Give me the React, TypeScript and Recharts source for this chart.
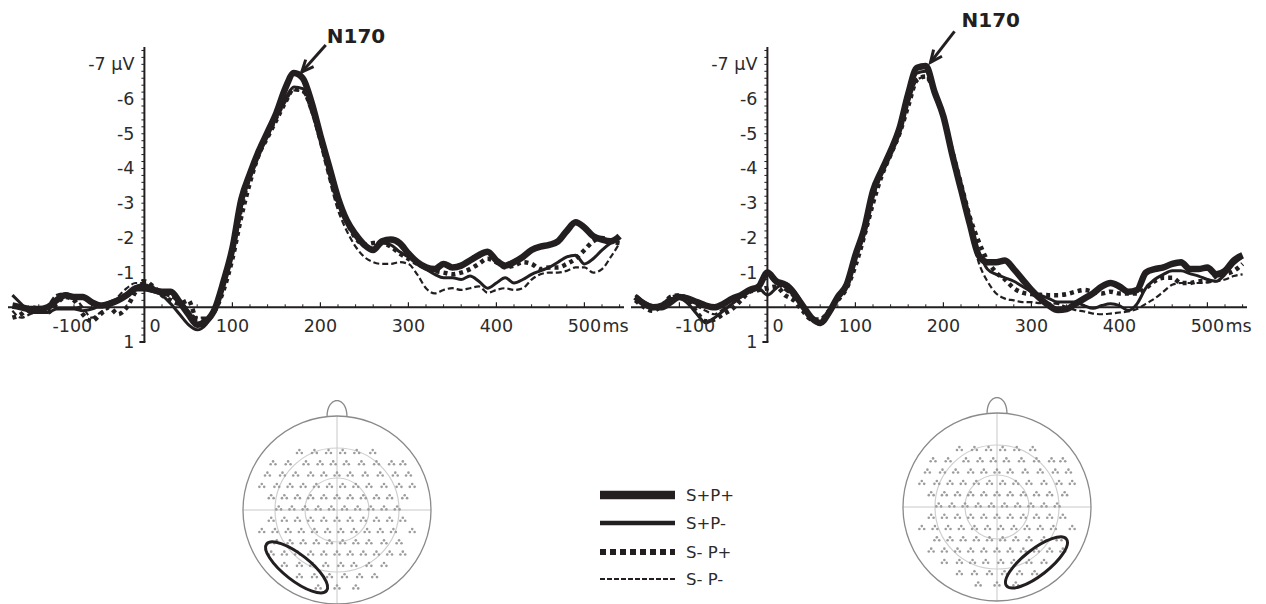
import { LineChart, Line, XAxis, YAxis, ReferenceLine, ReferenceDot, ScatterChart, Scatter } from 'recharts'

const INK = '#231f20'
const TEXT = '#2b2b2b'
const FONT = '"DejaVu Sans", Verdana, sans-serif'

// time axis (ms)
const TIMES = [
  -150, -140, -130, -120, -110, -100, -90, -80, -70, -60,
  -50, -40, -30, -20, -10, 0, 10, 20, 30, 40,
  50, 60, 70, 80, 90, 100, 110, 120, 130, 140,
  150, 160, 170, 180, 190, 200, 210, 220, 230, 240,
  250, 260, 270, 280, 290, 300, 310, 320, 330, 340,
  350, 360, 370, 380, 390, 400, 410, 420, 430, 440,
  450, 460, 470, 480, 490, 500, 510, 520, 530, 540,
]

// left panel (µV)
const LEFT_SPP = [
  -0.05, 0.0, 0.05, 0.05, 0.0, -0.2, -0.35, -0.3, -0.3, -0.15,
  -0.05, -0.1, -0.2, -0.35, -0.55, -0.6, -0.5, -0.45, -0.45, -0.15,
  0.2, 0.5, 0.4, 0.05, -0.75, -1.7, -3.1, -3.85, -4.5, -5.05,
  -5.6, -6.3, -6.75, -6.6, -5.9, -4.95, -4.05, -3.15, -2.5, -2.1,
  -1.8, -1.65, -1.9, -1.95, -1.85, -1.55, -1.3, -1.15, -1.1, -1.25,
  -1.15, -1.2, -1.35, -1.5, -1.6, -1.35, -1.2, -1.3, -1.45, -1.65,
  -1.75, -1.8, -1.9, -2.2, -2.45, -2.3, -2.05, -1.95, -1.9, -2.05,
]
const LEFT_SPM = [
  -0.35, -0.1, 0.15, 0.15, 0.15, 0.05, 0.05, 0.05, 0.1, 0.05,
  -0.05, -0.15, -0.25, -0.4, -0.5, -0.5, -0.45, -0.35, -0.1, 0.2,
  0.5, 0.65, 0.5, 0.05, -0.8, -1.75, -3.1, -3.9, -4.5, -5.0,
  -5.5, -6.0, -6.35, -6.3, -5.8, -4.9, -4.0, -3.1, -2.5, -2.05,
  -1.75, -1.7, -1.85, -1.8, -1.6, -1.45, -1.25, -1.1, -0.95, -0.85,
  -0.85, -0.8, -0.9, -0.75, -0.55, -0.7, -0.85, -0.7, -0.8, -0.95,
  -1.05, -1.15, -1.3, -1.45, -1.5, -1.25, -1.4, -1.65, -1.85, -2.0,
]
const LEFT_SMP = [
  0.3, 0.2, 0.0, 0.05, 0.15, -0.1, -0.3, -0.2, 0.2, 0.4,
  0.2, 0.0, 0.2, 0.0, -0.45, -0.75, -0.6, -0.35, -0.2, -0.1,
  -0.2, 0.35, 0.35, 0.1, -0.5, -1.4, -2.6, -3.6, -4.4, -4.9,
  -5.4, -5.9, -6.3, -6.25, -5.7, -4.9, -3.95, -3.0, -2.45, -2.0,
  -1.8, -1.85, -1.85, -1.75, -1.55, -1.4, -1.25, -1.15, -1.05, -1.0,
  -0.95, -1.0, -1.1, -1.25, -1.4, -1.3, -1.15, -1.2, -1.3, -1.25,
  -1.1, -1.15, -1.15, -1.25, -1.4, -1.65, -1.9, -2.0, -1.9, -1.85,
]
const LEFT_SMM = [
  0.1, 0.3, 0.2, 0.1, -0.05, -0.35, -0.4, -0.3, 0.0, 0.3,
  0.15, 0.0, -0.3, -0.55, -0.7, -0.7, -0.6, -0.4, -0.3, -0.15,
  0.1, 0.3, 0.3, 0.05, -0.6, -1.5, -2.7, -3.7, -4.4, -4.9,
  -5.4, -5.9, -6.25, -6.2, -5.6, -4.7, -3.7, -2.8, -2.2, -1.75,
  -1.45, -1.3, -1.25, -1.25, -1.3, -1.25, -0.95, -0.55, -0.4, -0.5,
  -0.55, -0.5, -0.55, -0.6, -0.42, -0.5, -0.55, -0.5, -0.55, -0.8,
  -0.95, -1.0, -1.0, -1.05, -1.15, -1.15, -1.0, -1.1, -1.45, -1.85,
]

// right panel (µV)
const RIGHT_SPP = [
  -0.3, -0.1, 0.0, 0.0, -0.15, -0.3, -0.25, -0.15, -0.05, 0.0,
  -0.1, -0.25, -0.35, -0.5, -0.6, -1.0, -0.75, -0.65, -0.4, -0.05,
  0.3, 0.45, 0.15, -0.3, -0.65, -1.5, -2.25, -3.35, -3.95, -4.5,
  -5.15, -6.15, -6.9, -6.95, -6.2, -5.5, -4.4, -3.4, -2.4, -1.5,
  -1.3, -1.3, -1.35, -1.1, -0.8, -0.5, -0.25, -0.05, 0.08, 0.05,
  -0.1, -0.25, -0.4, -0.6, -0.7, -0.6, -0.45, -0.5, -1.0, -1.1,
  -1.15, -1.25, -1.3, -1.1, -1.1, -1.15, -0.95, -1.05, -1.35, -1.5,
]
const RIGHT_SPM = [
  -0.35, -0.15, -0.05, -0.1, -0.25, -0.25, -0.1, 0.2, 0.45, 0.3,
  0.1, -0.1, -0.3, -0.5, -0.55, -0.35, -0.55, -0.7, -0.5, -0.1,
  0.3, 0.5, 0.2, -0.25, -0.7, -1.5, -2.35, -3.25, -3.95, -4.5,
  -5.1, -6.05, -6.75, -6.8, -6.2, -5.4, -4.3, -3.3, -2.3, -1.6,
  -1.1, -0.95, -0.85, -0.75, -0.6, -0.45, -0.35, -0.25, -0.15, -0.15,
  -0.15, -0.05, 0.03, -0.05, -0.1, -0.05, 0.09, -0.1, -0.55, -0.8,
  -0.95, -1.05, -1.05, -0.97, -0.9, -0.8, -0.75, -0.95, -1.25, -1.45,
]
const RIGHT_SMP = [
  -0.2, 0.0, 0.1, -0.05, -0.3, -0.35, -0.2, 0.15, 0.4, 0.35,
  0.2, 0.05, -0.2, -0.45, -0.5, -0.55, -0.6, -0.35, -0.2, 0.1,
  0.35, 0.35, 0.1, -0.2, -0.55, -1.2, -2.05, -3.0, -3.8, -4.4,
  -5.0, -5.8, -6.55, -6.65, -6.2, -5.5, -4.5, -3.55, -2.6, -1.9,
  -1.35, -1.0, -0.8, -0.55, -0.42, -0.38, -0.36, -0.35, -0.35, -0.38,
  -0.45, -0.5, -0.45, -0.4, -0.45, -0.4, -0.4, -0.4, -0.55, -0.75,
  -0.85, -0.85, -0.7, -0.7, -0.75, -0.75, -0.9, -0.95, -1.05, -1.25,
]
const RIGHT_SMM = [
  -0.25, -0.05, 0.05, -0.05, -0.3, -0.35, -0.3, -0.05, 0.1, 0.2,
  0.05, -0.1, -0.3, -0.5, -0.65, -0.9, -0.7, -0.5, -0.3, 0.0,
  0.35, 0.4, 0.15, -0.25, -0.6, -1.3, -2.2, -3.1, -3.85, -4.4,
  -5.0, -5.85, -6.55, -6.65, -6.2, -5.5, -4.4, -3.3, -2.3, -1.3,
  -0.75, -0.4, -0.25, -0.2, -0.15, -0.15, -0.12, -0.12, -0.1, 0.0,
  0.08, 0.12, 0.18, 0.2, 0.18, 0.15, 0.12, 0.05, -0.1, -0.25,
  -0.45, -0.65, -0.7, -0.7, -0.7, -0.72, -0.75, -0.8, -0.9, -0.95,
]

const SERIES_KEYS = ['spp', 'spm', 'smp', 'smm']
const SERIES_NAMES = ['S+P+', 'S+P-', 'S- P+', 'S- P-']
const LINE_WIDTHS = [6.5, 3, 4.5, 2.2]
const LINE_DASH = [undefined, undefined, '4 4', '6 3']
const LEGEND_WIDTHS = [8.5, 4.5, 6, 2]
const LEGEND_DASH = [undefined, undefined, '6 4', '5 2']

const X_TICKS = [-100, 0, 100, 200, 300, 400, 500]
const X_TICK_LABELS = ['-100', '0', '100', '200', '300', '400', '500']
const X_UNIT = 'ms'
const X_MINOR = [
  -140, -120, -80, -60, -40, -20, 20, 40, 60, 80, 120, 140, 160, 180,
  220, 240, 260, 280, 320, 340, 360, 380, 420, 440, 460, 480, 520, 540,
]
const Y_TICKS = [-7, -6, -5, -4, -3, -2, -1, 1]
const Y_TICK_LABELS = ['-7 µV', '-6', '-5', '-4', '-3', '-2', '-1', '1']
const Y_MINOR = [
  -7.4, -7.2, -7, -6.8, -6.6, -6.4, -6.2, -6, -5.8, -5.6, -5.4, -5.2, -5,
  -4.8, -4.6, -4.4, -4.2, -4, -3.8, -3.6, -3.4, -3.2, -3, -2.8, -2.6, -2.4,
  -2.2, -2, -1.8, -1.6, -1.4, -1.2, -1, -0.8, -0.6, -0.4, -0.2, 0.2, 0.4, 0.6, 0.8,
]

const PEAK_LABEL = 'N170'
const PEAK_T = [172, 174]
const PEAK_V = [-6.75, -7.0]

// electrode layout (head radius = 1), rows top to bottom
const ELECTRODE_ROW_Y = [0.62, 0.5, 0.38, 0.26, 0.14, 0.02, -0.1, -0.22, -0.34, -0.46, -0.58, -0.7, -0.82]
const ELECTRODE_ROW_X = [
  [-0.4, -0.24, -0.09, 0.06, 0.21, 0.38],
  [-0.68, -0.52, -0.33, -0.18, -0.04, 0.1, 0.26, 0.42, 0.58, 0.7],
  [-0.74, -0.58, -0.44, -0.28, -0.14, 0.0, 0.14, 0.3, 0.46, 0.62, 0.76],
  [-0.8, -0.64, -0.5, -0.36, -0.22, -0.08, 0.06, 0.2, 0.34, 0.5, 0.66, 0.8],
  [-0.7, -0.56, -0.42, -0.28, -0.14, 0.0, 0.14, 0.28, 0.42, 0.56, 0.72],
  [-0.62, -0.48, -0.34, -0.2, -0.06, 0.08, 0.22, 0.36, 0.5, 0.64],
  [-0.7, -0.56, -0.42, -0.28, -0.14, 0.0, 0.14, 0.28, 0.42, 0.56, 0.7],
  [-0.8, -0.66, -0.52, -0.38, -0.24, -0.1, 0.04, 0.18, 0.32, 0.46, 0.6, 0.8],
  [-0.64, -0.5, -0.36, -0.22, -0.08, 0.06, 0.2, 0.34, 0.5, 0.66],
  [-0.7, -0.56, -0.42, -0.28, -0.14, 0.0, 0.14, 0.28, 0.42, 0.56, 0.7],
  [-0.56, -0.4, -0.26, -0.12, 0.04, 0.18, 0.34, 0.5],
  [-0.4, -0.24, -0.08, 0.08, 0.24, 0.4],
  [-0.2, 0.0, 0.2],
]
const ROI_CENTER_X = [-0.43, 0.42]
const ROI_CENTER_Y = [-0.61, -0.59]
const ROI_ANGLE = [38, -38]

const leftData = TIMES.map((t, i) => ({ t, spp: LEFT_SPP[i], spm: LEFT_SPM[i], smp: LEFT_SMP[i], smm: LEFT_SMM[i] }))
const rightData = TIMES.map((t, i) => ({ t, spp: RIGHT_SPP[i], spm: RIGHT_SPM[i], smp: RIGHT_SMP[i], smm: RIGHT_SMM[i] }))
const electrodes = ELECTRODE_ROW_Y.flatMap((y, r) => ELECTRODE_ROW_X[r].map((x) => ({ x, y })))

const textStyle = { fontFamily: FONT, fontSize: 17.5, fill: TEXT }

function xTickShape(v: number, label: string) {
  return (p: any) => {
    const { cx, cy } = p
    let x = cx
    let anchor: 'middle' | 'start' = 'middle'
    if (v === 0) { x = cx + 5; anchor = 'start' }
    if (v < 0) x = cx + 16
    return (
      <g>
        {v !== 0 && <line x1={cx} x2={cx} y1={cy} y2={cy - 5} stroke={INK} strokeWidth={1.2} />}
        <text x={x} y={cy + 25} textAnchor={anchor} {...textStyle}>{label}</text>
        {v === 500 && <text x={cx + 18} y={cy + 25} {...textStyle}>{X_UNIT}</text>}
      </g>
    )
  }
}

function yTickShape(v: number, label: string) {
  return (p: any) => {
    const { cx, cy } = p
    return (
      <g>
        {v === 1 && <line x1={cx - 5} x2={cx + 1} y1={cy} y2={cy} stroke={INK} strokeWidth={2} />}
        <text x={cx - 10} y={cy + 6} textAnchor="end" {...textStyle}>{label}</text>
      </g>
    )
  }
}

const xMinorShape = (p: any) => <line x1={p.cx} x2={p.cx} y1={p.cy} y2={p.cy - 3} stroke={INK} strokeWidth={1} />
const yMinorShape = (p: any) => <line x1={p.cx - 3} x2={p.cx} y1={p.cy} y2={p.cy} stroke={INK} strokeWidth={1} />

function peakShape(tip: [number, number], tail: [number, number], text: [number, number]) {
  return (p: any) => {
    const { cx, cy } = p
    const tx = cx + tip[0], ty = cy + tip[1]
    const bx = cx + tail[0], by = cy + tail[1]
    const ang = Math.atan2(ty - by, tx - bx)
    const head = 13
    const a1 = ang + Math.PI - 0.42
    const a2 = ang + Math.PI + 0.42
    return (
      <g>
        <line x1={bx} y1={by} x2={tx} y2={ty} stroke={INK} strokeWidth={3} />
        <polyline
          points={`${tx + head * Math.cos(a1)},${ty + head * Math.sin(a1)} ${tx},${ty} ${tx + head * Math.cos(a2)},${ty + head * Math.sin(a2)}`}
          fill="none" stroke={INK} strokeWidth={3} strokeLinejoin="miter"
        />
        <text x={cx + text[0]} y={cy + text[1]} fontFamily={FONT} fontSize={20} fontWeight="bold" fill={INK}>{PEAK_LABEL}</text>
      </g>
    )
  }
}

function ErpPanel({ data, idx }: { data: any[]; idx: number }) {
  const arrow = idx === 0
    ? peakShape([6, -1], [30, -28], [31, -30])
    : peakShape([10, -2], [34, -33], [41, -37])
  return (
    <LineChart width={630} height={360} data={data} margin={{ top: 47, right: 6, bottom: 18, left: 8 }}>
      <XAxis type="number" dataKey="t" domain={[-155, 545]} allowDataOverflow hide />
      <YAxis type="number" domain={[-7.5, 1]} reversed allowDataOverflow hide />
      <ReferenceLine y={0} stroke={INK} strokeWidth={2} />
      <ReferenceLine segment={[{ x: 0, y: -7.5 }, { x: 0, y: 1 }]} stroke={INK} strokeWidth={2} />
      {X_MINOR.map((v) => (
        <ReferenceDot key={`xm${v}`} x={v} y={0} r={0} shape={xMinorShape} />
      ))}
      {Y_MINOR.map((v) => (
        <ReferenceDot key={`ym${v}`} x={0} y={v} r={0} shape={yMinorShape} />
      ))}
      {X_TICKS.map((v, i) => (
        <ReferenceDot key={`xt${v}`} x={v} y={0} r={0} shape={xTickShape(v, X_TICK_LABELS[i])} />
      ))}
      {Y_TICKS.map((v, i) => (
        <ReferenceDot key={`yt${v}`} x={0} y={v} r={0} shape={yTickShape(v, Y_TICK_LABELS[i])} />
      ))}
      {[3, 2, 1, 0].map((i) => (
        <Line
          key={SERIES_KEYS[i]}
          type="monotone"
          dataKey={SERIES_KEYS[i]}
          name={SERIES_NAMES[i]}
          stroke={INK}
          strokeWidth={LINE_WIDTHS[i]}
          strokeDasharray={LINE_DASH[i]}
          strokeLinejoin="round"
          dot={false}
          activeDot={false}
          isAnimationActive={false}
        />
      ))}
      <ReferenceDot x={PEAK_T[idx]} y={PEAK_V[idx]} r={0} shape={arrow} />
    </LineChart>
  )
}

const glyph = (p: any) => (
  <g fill="#9c9c9c">
    <circle cx={p.cx - 2.4} cy={p.cy + 1.3} r={1.3} />
    <circle cx={p.cx + 2.4} cy={p.cy + 1.3} r={1.3} />
    <circle cx={p.cx} cy={p.cy - 1.6} r={1.3} />
  </g>
)

function ringShape(r: number, stroke: string, w: number) {
  return (p: any) => <circle cx={p.cx} cy={p.cy} r={r} fill="none" stroke={stroke} strokeWidth={w} />
}

const noseShape = (p: any) => (
  <path
    d={`M ${p.cx - 10} ${p.cy + 1} C ${p.cx - 10} ${p.cy - 21}, ${p.cx + 10} ${p.cy - 21}, ${p.cx + 10} ${p.cy + 1}`}
    fill="none" stroke="#8a8a8a" strokeWidth={1.3}
  />
)

function roiShape(angle: number) {
  return (p: any) => (
    <ellipse cx={p.cx} cy={p.cy} rx={38} ry={13} fill="none" stroke={INK} strokeWidth={3}
      transform={`rotate(${angle} ${p.cx} ${p.cy})`} />
  )
}

function HeadMap({ idx }: { idx: number }) {
  return (
    <ScatterChart width={220} height={220} margin={{ top: 0, right: 0, bottom: 0, left: 0 }}>
      <XAxis type="number" dataKey="x" domain={[-1.17, 1.17]} allowDataOverflow hide />
      <YAxis type="number" dataKey="y" domain={[-1.17, 1.17]} allowDataOverflow hide />
      <ReferenceLine segment={[{ x: -1, y: 0 }, { x: 1, y: 0 }]} stroke="#c8c8c8" strokeWidth={1} />
      <ReferenceLine segment={[{ x: 0, y: -1 }, { x: 0, y: 1 }]} stroke="#c8c8c8" strokeWidth={1} />
      <ReferenceDot x={0} y={0} r={0} shape={ringShape(62, '#cfcfcf', 1.2)} />
      <ReferenceDot x={0} y={0} r={0} shape={ringShape(32, '#cfcfcf', 1.2)} />
      <ReferenceDot x={0} y={0} r={0} shape={ringShape(94, '#8a8a8a', 1.3)} />
      <ReferenceDot x={0} y={1} r={0} shape={noseShape} />
      <Scatter data={electrodes} shape={glyph} isAnimationActive={false} />
      <ReferenceDot x={ROI_CENTER_X[idx]} y={ROI_CENTER_Y[idx]} r={0} shape={roiShape(ROI_ANGLE[idx])} />
    </ScatterChart>
  )
}

function LegendBox() {
  const ys = [15, 43, 72, 99]
  return (
    <svg width={180} height={115}>
      {SERIES_NAMES.map((name, i) => (
        <g key={name}>
          <line x1={10} x2={85} y1={ys[i]} y2={ys[i]} stroke={INK} strokeWidth={LEGEND_WIDTHS[i]} strokeDasharray={LEGEND_DASH[i]} />
          <text x={96} y={ys[i] + 6} fontFamily={FONT} fontSize={16.5} fill={TEXT}>{name}</text>
        </g>
      ))}
    </svg>
  )
}

export default function App() {
  return (
    <div style={{ position: 'absolute', left: 0, top: 0, width: 1266, height: 604, background: '#fff', overflow: 'hidden' }}>
      <div style={{ position: 'absolute', left: 0, top: 0 }}>
        <ErpPanel data={leftData} idx={0} />
      </div>
      <div style={{ position: 'absolute', left: 623, top: 0 }}>
        <ErpPanel data={rightData} idx={1} />
      </div>
      <div style={{ position: 'absolute', left: 227, top: 400 }}>
        <HeadMap idx={0} />
      </div>
      <div style={{ position: 'absolute', left: 887, top: 397 }}>
        <HeadMap idx={1} />
      </div>
      <div style={{ position: 'absolute', left: 590, top: 480 }}>
        <LegendBox />
      </div>
    </div>
  )
}
